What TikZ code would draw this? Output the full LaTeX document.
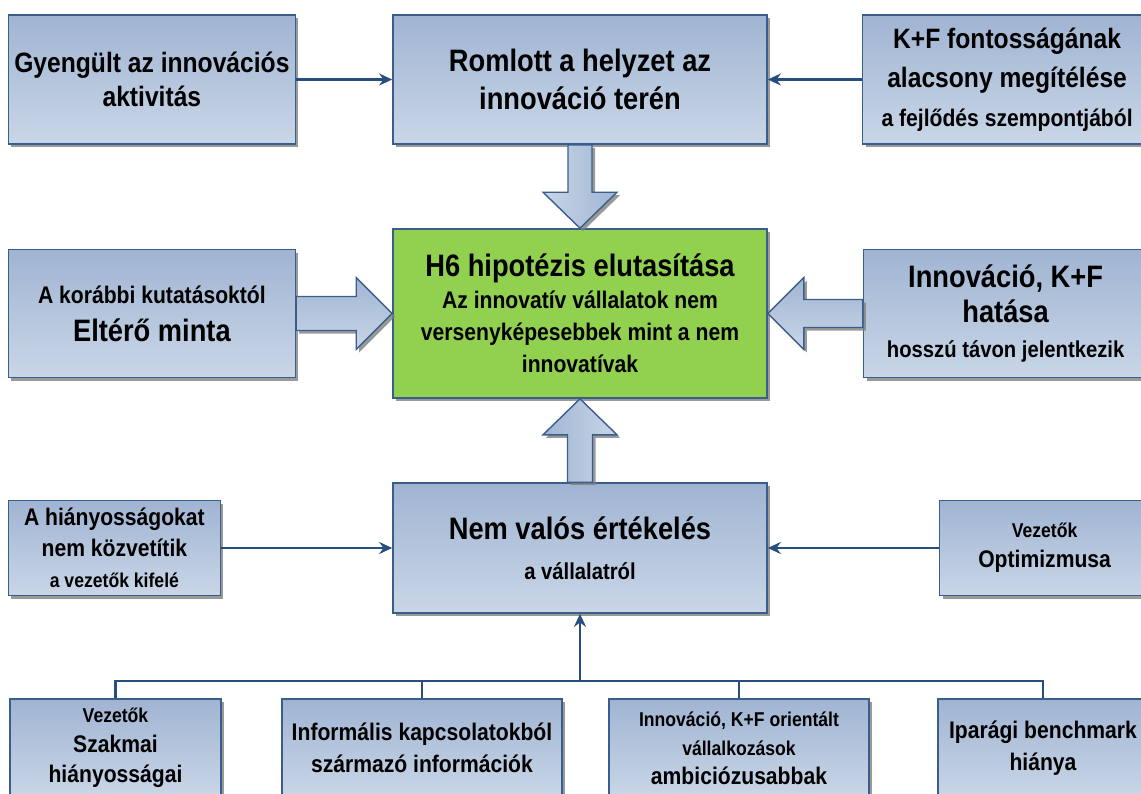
\documentclass[tikz,border=0pt]{standalone}
\usepackage{fontspec}
\setmainfont{Liberation Sans}[FakeStretch=0.88]
\usetikzlibrary{arrows.meta, positioning, calc, shadows}
\definecolor{boxtop}{RGB}{160,180,210}
\definecolor{boxbot}{RGB}{201,214,231}
\definecolor{boxline}{RGB}{58,94,140}
\definecolor{linkblue}{RGB}{40,78,128}
\definecolor{hypgreen}{RGB}{146,208,80}
\newcommand{\bigtxt}{\fontsize{31}{38}\selectfont}
\newcommand{\largetxt}{\fontsize{28}{34}\selectfont}
\newcommand{\midtxt}{\fontsize{24}{30}\selectfont}
\newcommand{\smalltxt}{\fontsize{20}{26}\selectfont}
\tikzset{
	basebox/.style={rectangle, draw=boxline, line width=1.6pt, align=center, inner sep=0pt,
		drop shadow={shadow xshift=3pt, shadow yshift=-3pt, fill=black!50, opacity=0.8}},
	box/.style={basebox, top color=boxtop, bottom color=boxbot},
	hyp/.style={basebox, fill=hypgreen},
	txt/.style={font=\bfseries\fontsize{24}{#1}\selectfont},
	line/.style={draw=linkblue, line width=2.2pt, -{Stealth[length=13pt, width=12pt]}},
	bus/.style={draw=linkblue, line width=2.2pt},
	bigarrow/.style={draw=boxline, line width=1.4pt,
		drop shadow={shadow xshift=3pt, shadow yshift=-3pt, fill=black!50, opacity=0.8}}
}

\begin{document}
\begin{tikzpicture}[x=1pt, y=-1pt, >=Stealth]
	\useasboundingbox (0,0) rectangle (1141,793);
	
	% Middle column
	\node[box, minimum width=374pt, minimum height=129pt, txt=38] (romlott) at (580,79.5)
		{\bigtxt Romlott a helyzet az\\\bigtxt innováció terén};
	\node[hyp, minimum width=374pt, minimum height=169pt, txt=32] (h6) at (580,313.5)
		{\bigtxt H6 hipotézis elutasítása\\\midtxt Az innovatív vállalatok nem\\\midtxt versenyképesebbek mint a nem\\\midtxt innovatívak};
	\node[box, minimum width=374pt, minimum height=130pt, txt=40] (nemvalos) at (580,548)
		{\bigtxt Nem valós értékelés\\\fontsize{23}{30}\selectfont a vállalatról};
	
	% Side boxes
	\node[box, minimum width=287pt, minimum height=129pt, txt=34, left=96pt of romlott] (gyengult)
		{\largetxt Gyengült az innovációs\\\largetxt aktivitás};
	\node[box, minimum width=289pt, minimum height=129pt, txt=39, right=94pt of romlott] (kf)
		{\largetxt K+F fontosságának\\\largetxt alacsony megítélése\\\midtxt a fejlődés szempontjából};
	\node[box, minimum width=287pt, minimum height=128pt, txt=38, left=96pt of h6] (elteromin)
		{\midtxt A korábbi kutatásoktól\\\bigtxt Eltérő minta};
	\node[box, minimum width=284pt, minimum height=128pt, txt=35, right=95pt of h6] (hatasa)
		{\bigtxt Innováció, K+F\\\bigtxt hatása\\\fontsize{23}{30}\selectfont hosszú távon jelentkezik};
	\node[box, minimum width=212pt, minimum height=95pt, txt=31, left=171pt of nemvalos] (kozvetit)
		{\midtxt A hiányosságokat\\\midtxt nem közvetítik\\\smalltxt a vezetők kifelé};
	\node[box, minimum width=210pt, minimum height=95pt, txt=30, right=171pt of nemvalos] (optim)
		{\smalltxt Vezetők\\\midtxt Optimizmusa};
	
	% Bottom row
	\node[box, minimum width=211pt, minimum height=98pt, txt=30] (szakmai) at (115.5,748)
		{\smalltxt Vezetők\\\midtxt Szakmai\\\midtxt hiányosságai};
	\node[box, minimum width=280pt, minimum height=98pt, txt=32] (informalis) at (422,748)
		{\midtxt Informális kapcsolatokból\\\midtxt származó információk};
	\node[box, minimum width=260pt, minimum height=98pt, txt=29] (ambic) at (739,748)
		{\smalltxt Innováció, K+F orientált\\\smalltxt vállalkozások\\\midtxt ambiciózusabbak};
	\node[box, minimum width=210pt, minimum height=98pt, txt=32] (benchmark) at (1043,748)
		{\midtxt Iparági benchmark\\\midtxt hiánya};
	
	% Thin connectors
	\path[line] (gyengult) -- (romlott);
	\path[line] (kf) -- (romlott);
	\path[line] (kozvetit) -- (nemvalos);
	\path[line] (optim) -- (nemvalos);
	
	\coordinate (bus) at ([yshift=-67pt]nemvalos.south);
	\path[bus] (szakmai.north) |- (bus) -| (benchmark.north);
	\path[bus] (informalis.north) -- (informalis.north |- bus);
	\path[bus] (ambic.north) -- (ambic.north |- bus);
	\path[line] (bus) -- (nemvalos.south);
	
	% Block arrows into the hypothesis
	\path[bigarrow, left color=boxbot, right color=boxtop]
		($(romlott.south)+(-12,0)$) -- ($(h6.north)+(-12,-36)$) -- ($(h6.north)+(-37,-36)$) -- (h6.north)
		-- ($(h6.north)+(37,-36)$) -- ($(h6.north)+(12,-36)$) -- ($(romlott.south)+(12,0)$) -- cycle;
	\path[bigarrow, left color=boxtop, right color=boxbot]
		($(nemvalos.north)+(-12.5,0)$) -- ($(h6.south)+(-12.5,36)$) -- ($(h6.south)+(-37,36)$) -- (h6.south)
		-- ($(h6.south)+(37,36)$) -- ($(h6.south)+(12.5,36)$) -- ($(nemvalos.north)+(12.5,0)$) -- cycle;
	\path[bigarrow, top color=boxtop, bottom color=boxbot]
		($(elteromin.east)+(0,-17)$) -- ($(h6.west)+(-36,-17)$) -- ($(h6.west)+(-36,-36)$) -- (h6.west)
		-- ($(h6.west)+(-36,36)$) -- ($(h6.west)+(-36,17)$) -- ($(elteromin.east)+(0,17)$) -- cycle;
	\path[bigarrow, top color=boxtop, bottom color=boxbot]
		($(hatasa.west)+(0,-14)$) -- ($(h6.east)+(36,-14)$) -- ($(h6.east)+(36,-36)$) -- (h6.east)
		-- ($(h6.east)+(36,36)$) -- ($(h6.east)+(36,14)$) -- ($(hatasa.west)+(0,14)$) -- cycle;
\end{tikzpicture}
\end{document}
